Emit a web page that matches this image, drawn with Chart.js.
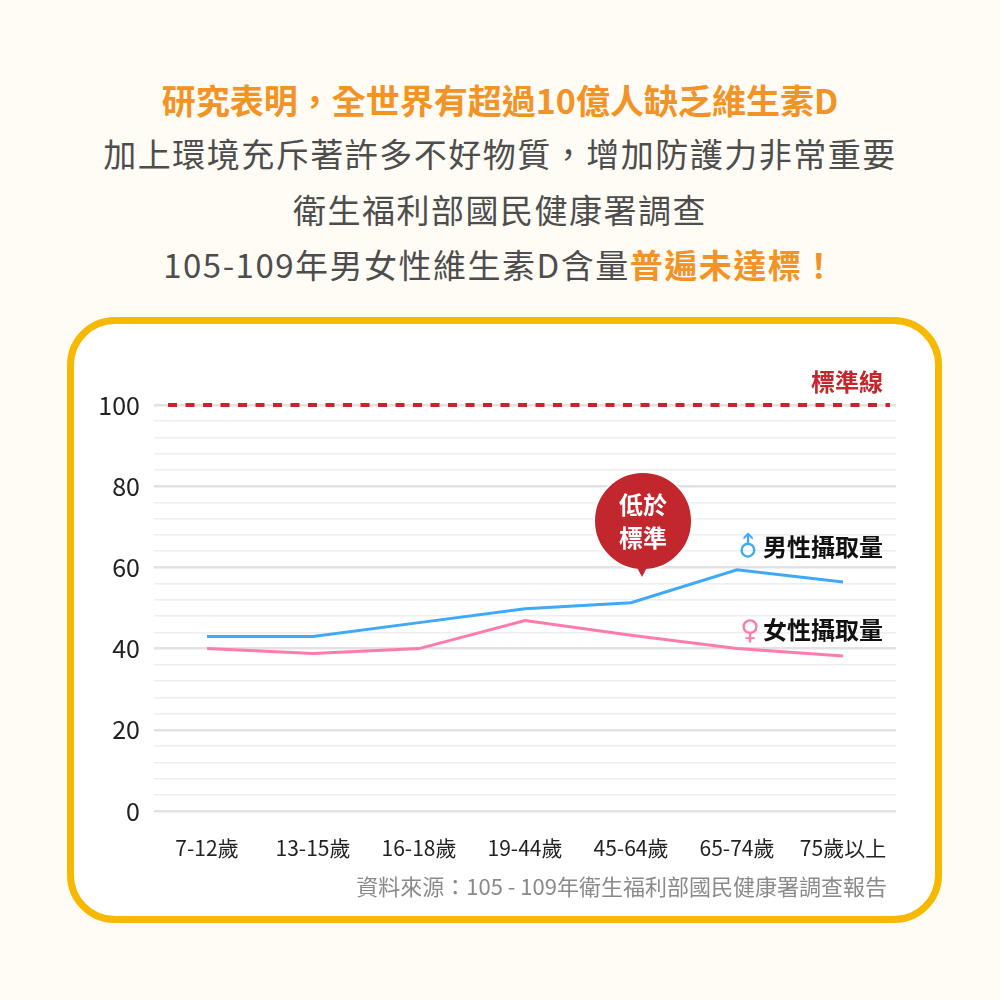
<!DOCTYPE html>
<html><head><meta charset="utf-8">
<script src="https://cdn.jsdelivr.net/npm/chart.js@4.4.1/dist/chart.umd.min.js"></script>
<style>
html,body{margin:0;padding:0;}
body{width:1000px;height:1000px;background:#fffbf5;position:relative;overflow:hidden;font-family:"Noto Sans CJK TC","Noto Sans",sans-serif;}
.t{position:absolute;left:0;width:1000px;text-align:center;white-space:nowrap;line-height:44px;height:44px;}
.l1{top:78px;font-size:34px;font-weight:700;color:#f39325;}
.g{font-size:33px;color:#4d4d4d;letter-spacing:1.5px;}
.l2{top:131px;}
.l3{top:187px;}
.l4{top:242px;}
.or{color:#f39325;font-weight:700;}
#box{position:absolute;left:67px;top:317px;width:861px;height:592px;border:7px solid #f6b800;border-radius:48px;background:#ffffff;}
#c{position:absolute;left:0;top:0;}
.ov{position:absolute;white-space:nowrap;font-weight:700;}
#std{right:117px;top:365px;font-size:24px;color:#c1272d;line-height:32px;}
#male{right:117px;top:530px;font-size:24px;color:#111;line-height:32px;}
#female{right:117px;top:613px;font-size:24px;color:#111;line-height:32px;}
.sym{font-family:"DejaVu Sans",sans-serif;font-size:27px;margin-right:3px;display:inline-block;font-weight:700;}
.rot{transform:rotate(-45deg);}
#bub{position:absolute;left:593px;top:471px;width:96px;height:96px;border-radius:50%;background:#c1272d;border:2px solid #fff;color:#fff;font-weight:700;font-size:24px;line-height:33px;text-align:center;box-sizing:content-box;}
#bub .in{padding-top:14px;}
#tip{position:absolute;left:630px;top:554px;width:0;height:0;border-left:12px solid transparent;border-right:12px solid transparent;border-top:23px solid #c1272d;}
#src{position:absolute;right:113px;top:870px;font-size:22px;color:#8a8a8a;line-height:30px;white-space:nowrap;}
</style>
</head>
<body>
<div class="t l1">研究表明，全世界有超過10億人缺乏維生素D</div>
<div class="t g l2">加上環境充斥著許多不好物質，增加防護力非常重要</div>
<div class="t g l3">衛生福利部國民健康署調查</div>
<div class="t g l4">105-109年男女性維生素D含量<span class="or">普遍未達標！</span></div>
<div id="box"></div>
<canvas id="c" width="1000" height="1000"></canvas>
<div id="std" class="ov">標準線</div>
<div id="male" class="ov"><span class="sym rot" style="color:#3fa9f5">♂</span>男性攝取量</div>
<div id="female" class="ov"><span class="sym" style="color:#ff7bac">♀</span>女性攝取量</div>
<div id="bub"><div class="in">低於<br>標準</div></div>
<div id="tip"></div>
<div id="src">資料來源：105 - 109年衛生福利部國民健康署調查報告</div>
<script>
const categories = ['7-12歲','13-15歲','16-18歲','19-44歲','45-64歲','65-74歲','75歲以上'];
const maleValues = [43, 43, 46.4, 49.8, 51.3, 59.4, 56.4];
const femaleValues = [40, 38.8, 40, 46.9, 43.3, 40, 38.2];
const standardValue = 100;
const yTickLabels = [0, 20, 40, 60, 80, 100];

const standardLine = {
  id: 'standardLine',
  afterDatasetsDraw(chart) {
    const {ctx, chartArea, scales} = chart;
    const y = scales.y.getPixelForValue(standardValue);
    ctx.save();
    ctx.strokeStyle = '#c1272d';
    ctx.lineWidth = 4;
    ctx.setLineDash([9, 8.5]);
    ctx.beginPath();
    ctx.moveTo(chartArea.left + 14, y);
    ctx.lineTo(chartArea.right - 6, y);
    ctx.stroke();
    ctx.restore();
  }
};

new Chart(document.getElementById('c'), {
  type: 'line',
  data: {
    labels: categories,
    datasets: [
      {label: '男性攝取量', data: maleValues, borderColor: '#3fa9f5', borderWidth: 3, pointRadius: 0, tension: 0, fill: false},
      {label: '女性攝取量', data: femaleValues, borderColor: '#ff7bac', borderWidth: 3, pointRadius: 0, tension: 0, fill: false}
    ]
  },
  options: {
    responsive: false,
    animation: false,
    layout: {padding: {left: 84, right: 104, top: 405, bottom: 129}},
    plugins: {legend: {display: false}, tooltip: {enabled: false}},
    scales: {
      x: {
        offset: true,
        grid: {display: false, drawTicks: false},
        border: {display: false},
        ticks: {font: {family: '"Noto Sans CJK TC", sans-serif', size: 21}, color: '#222', padding: 24, maxRotation: 0, autoSkip: false},
        afterFit(s) { s.height = 60; }
      },
      y: {
        min: 0, max: 100,
        border: {display: false},
        grid: {
          drawTicks: false,
          color: c => yTickLabels.includes(c.tick.value) ? '#e2e2e2' : '#eeeeee',
          lineWidth: c => yTickLabels.includes(c.tick.value) ? 2.5 : 1.5
        },
        ticks: {
          stepSize: 4, autoSkip: false, padding: 14,
          font: {family: '"Noto Sans CJK TC", sans-serif', size: 25}, color: '#222',
          callback: v => yTickLabels.includes(v) ? String(v) : ''
        },
        afterFit(s) { s.width = 70; }
      }
    }
  },
  plugins: [standardLine]
});
</script>
</body></html>
